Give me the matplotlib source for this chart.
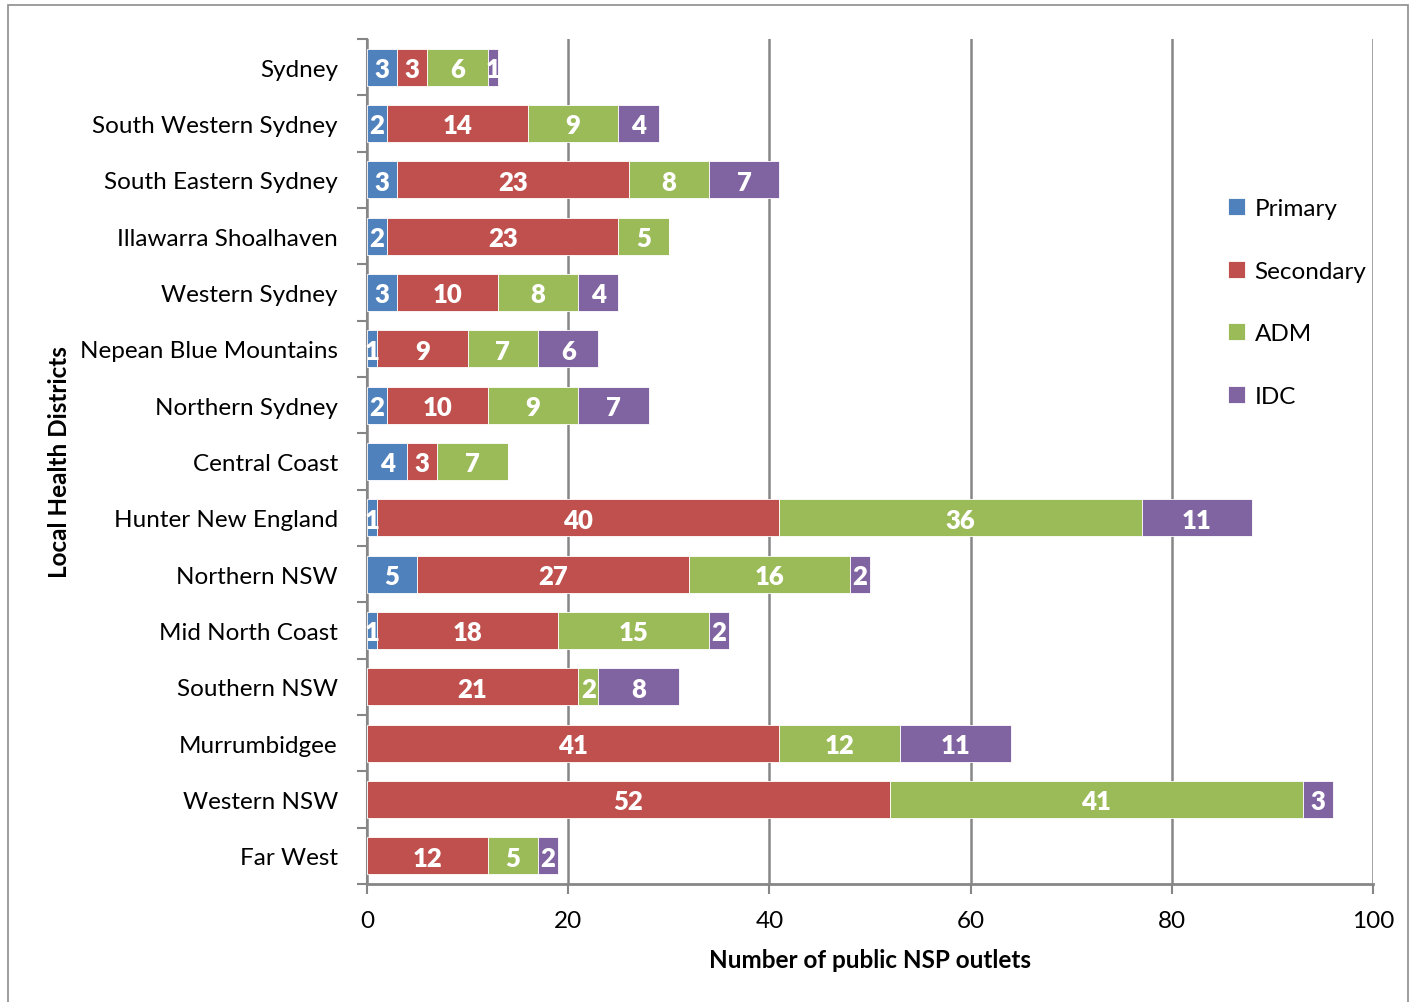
import matplotlib.pyplot as plt
from matplotlib.patches import Rectangle
import numpy as np

plt.rcParams['font.family'] = ['Lato', 'DejaVu Sans']

districts = ['Sydney', 'South Western Sydney', 'South Eastern Sydney', 'Illawarra Shoalhaven',
             'Western Sydney', 'Nepean Blue Mountains', 'Northern Sydney', 'Central Coast',
             'Hunter New England', 'Northern NSW', 'Mid North Coast', 'Southern NSW',
             'Murrumbidgee', 'Western NSW', 'Far West']
primary = [3, 2, 3, 2, 3, 1, 2, 4, 1, 5, 1, 0, 0, 0, 0]
secondary = [3, 14, 23, 23, 10, 9, 10, 3, 40, 27, 18, 21, 41, 52, 12]
adm = [6, 9, 8, 5, 8, 7, 9, 7, 36, 16, 15, 2, 12, 41, 5]
idc = [1, 4, 7, 0, 4, 6, 7, 0, 11, 2, 2, 8, 11, 3, 2]

series = [('Primary', primary, '#4F81BD'),
          ('Secondary', secondary, '#C0504D'),
          ('ADM', adm, '#9BBB59'),
          ('IDC', idc, '#8064A2')]

fig = plt.figure(figsize=(14.12, 10.03), dpi=100)
ax = fig.add_axes([0.2599, 0.1176, 0.7125, 0.8425])

# outer chart frame
fig.patches.append(Rectangle((0.006, -0.01), 0.991, 1.004, transform=fig.transFigure,
                             fill=False, edgecolor='#8c8c8c', linewidth=1.2))

y = np.arange(len(districts))
left = np.zeros(len(districts))
for name, vals, color in series:
    vals = np.array(vals)
    ax.barh(y, vals, left=left, height=0.66, color=color, edgecolor='white',
            linewidth=0.6, label=name, zorder=3)
    for yi, (l, v) in enumerate(zip(left, vals)):
        if v > 0:
            ax.text(l + v / 2, yi + 0.03, str(v), ha='center', va='center', color='white',
                    fontsize=18.5, fontweight='heavy', zorder=4)
    left += vals

ax.set_xlim(0, 100)
ax.set_ylim(len(districts) - 0.5, -0.5)
ax.set_xticks(np.arange(0, 101, 20))
ax.set_yticks(y)
ax.set_yticklabels(districts, fontsize=17.5)
ax.set_yticks(np.arange(-0.5, len(districts), 1), minor=True)
ax.tick_params(axis='y', which='major', length=0, pad=21)
ax.tick_params(axis='y', which='minor', length=7, width=1.5, color='#868686')
ax.tick_params(axis='x', labelsize=17.5, length=7, width=1.5, color='#868686', pad=12)

ax.grid(axis='x', color='#868686', linewidth=1.8, zorder=0)
for side in ['top', 'right']:
    ax.spines[side].set_visible(False)
ax.spines['left'].set_color('#868686')
ax.spines['left'].set_linewidth(1.5)
ax.spines['bottom'].set_color('#868686')
ax.spines['bottom'].set_linewidth(2)

ax.set_xlabel('Number of public NSP outlets', fontsize=17.5, fontweight='bold', labelpad=12)
ax.set_ylabel('Local Health Districts', fontsize=17.5, fontweight='bold')
ax.yaxis.set_label_coords(-0.294, 0.5)

ax.legend(loc='upper left', bbox_to_anchor=(0.834, 0.838), frameon=False, fontsize=17.5,
          handlelength=0.7, handleheight=0.7, handletextpad=0.4, labelspacing=1.72)

plt.savefig('out.png', dpi=100)
